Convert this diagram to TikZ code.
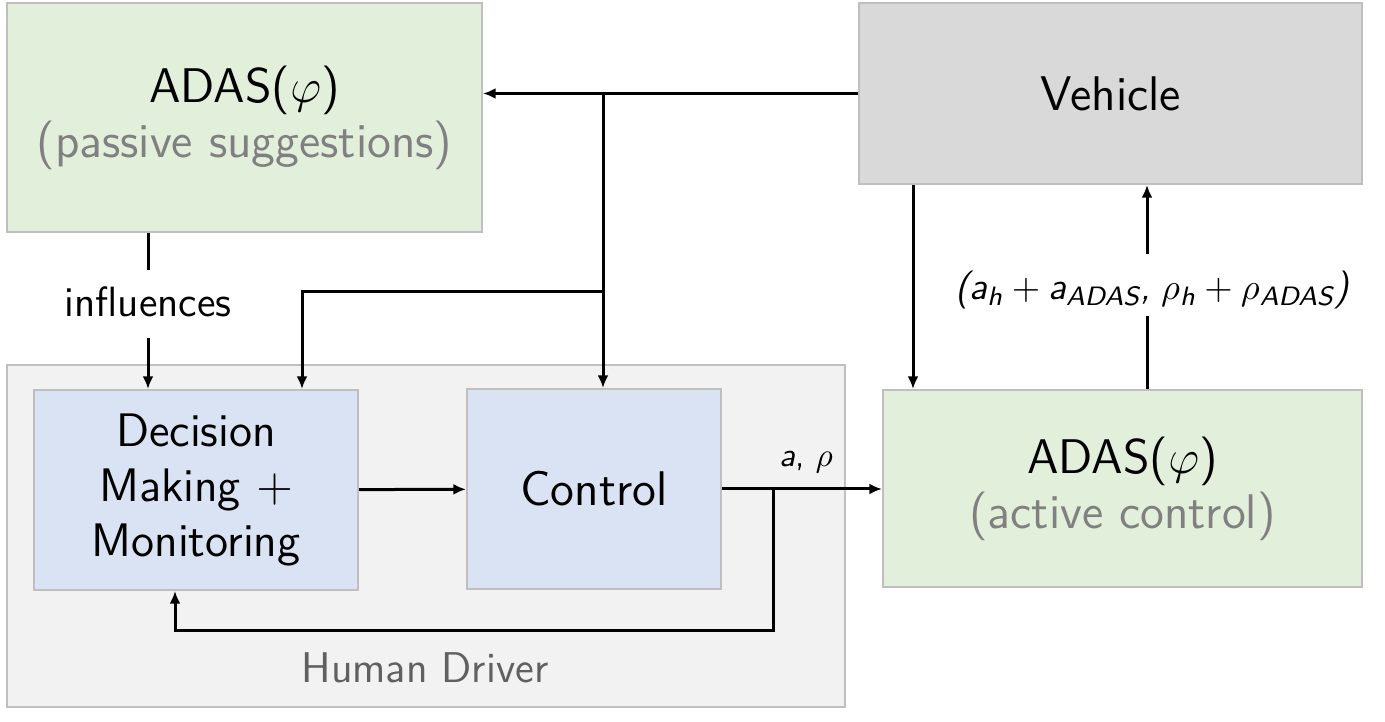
\documentclass[tikz,border=0pt]{standalone}
\usepackage{amsmath}
\usepackage{fontspec}
\usetikzlibrary{arrows.meta,calc}
\definecolor{grnfill}{HTML}{E2EFDA}
\definecolor{bluefill}{HTML}{DAE3F3}
\definecolor{vehfill}{HTML}{D9D9D9}
\definecolor{hdfill}{HTML}{F2F2F2}
\definecolor{bordergray}{HTML}{BFBFBF}
\definecolor{txtgray}{HTML}{808080}
\definecolor{hdgray}{HTML}{606060}
\newcommand{\sfi}[1]{\textsf{\slshape #1}}
\begin{document}
\begin{tikzpicture}[x=0.3pt,y=-0.3pt,
  font=\sffamily,
  bx/.style 2 args={draw=bordergray, line width=0.6pt, inner sep=0pt,
    minimum width=#1*0.3pt, minimum height=#2*0.3pt, align=center},
  arr/.style={line width=0.9pt, -{Latex[length=3.8pt,width=3.3pt]}},
  ln/.style={line width=0.9pt},
  big/.style={font=\sffamily\fontsize{14.6}{16.5}\selectfont},
  decf/.style={font=\sffamily\fontsize{14.1}{16.5}\selectfont},
  mid/.style={font=\sffamily\fontsize{12.7}{14}\selectfont},
]
\useasboundingbox (0,0) rectangle (1385,722);
% boxes
\node[bx={838}{342}, fill=hdfill] (hd) at (426,536) {};
\node[hdgray, font=\sffamily\fontsize{12.9}{14}\selectfont] (hdl) at (425,668) {Human Driver};
\node[bx={475}{229}, fill=grnfill, big] (adasp) at (244.5,117.5)
  {ADAS($\varphi$)\\\textcolor{txtgray}{(passive suggestions)}};
\node[bx={503}{181}, fill=vehfill, big] (veh) at (1110.5,93.5) {Vehicle};
\node[bx={324}{200}, fill=bluefill, decf] (dec) at (196,490)
  {Decision\\Making $+$\\Monitoring};
\node[bx={254}{200}, fill=bluefill, big] (ctrl) at (594,489) {Control};
\node[bx={479}{197}, fill=grnfill, big] (adasa) at (1122.5,488.5)
  {ADAS($\varphi$)\\\textcolor{txtgray}{(active control)}};
% labels
\node[mid, inner sep=0pt] (inf) at (148,302) {influences};
\node[inner sep=0pt, font=\sffamily\fontsize{10}{11}\selectfont] (arl) at (806,462) {\sfi{a}, $\rho$};
\node[inner sep=0pt, font=\sffamily\fontsize{11.4}{13}\selectfont] (sum) at (1152,290)
  {$\sfi{(}\sfi{a}_{\sfi{h}} + \sfi{a}_{\sfi{ADAS}}\sfi{,}\;\rho_{\sfi{h}} + \rho_{\sfi{ADAS}}\sfi{)}$};
% coordinates
\coordinate (j1) at (603,94);
\coordinate (j2) at (603,292);
\coordinate (k) at (302,292);
\coordinate (f) at (773,490);
\coordinate (fb1) at (773,630);
\coordinate (fb2) at (175,630);
\coordinate (v1) at (913,0);
\coordinate (a1) at (1147,0);
% connectors
\draw[arr] (veh.west) -- (veh.west -| adasp.east);
\draw[arr] (j1) -- (j1 |- ctrl.north);
\draw[arr] (j2) -- (k) -- (k |- dec.north);
\draw[ln] (adasp.south -| inf) -- ([yshift=5pt]inf.north);
\draw[arr] ([yshift=-6pt]inf.south) -- (inf |- dec.north);
\draw[arr] (dec) -- (ctrl);
\draw[arr] (ctrl.east) -- (ctrl.east -| adasa.west);
\draw[arr] (f) -- (fb1) -- (fb2) -- (fb2 |- dec.south);
\draw[arr] (v1 |- veh.south) -- (v1 |- adasa.north);
\draw[ln] (a1 |- adasa.north) -- ([yshift=-2pt]a1 |- sum.south);
\draw[arr] ([yshift=5pt]a1 |- sum.north) -- (a1 |- veh.south);
\end{tikzpicture}
\end{document}
